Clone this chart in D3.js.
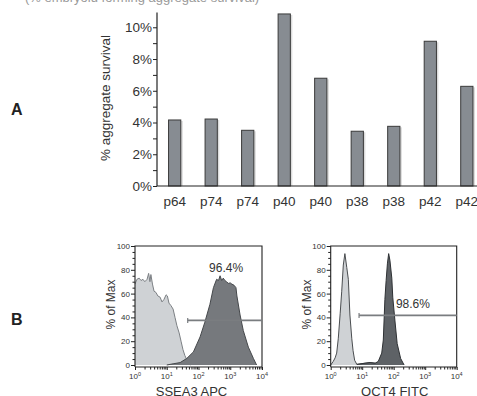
<!DOCTYPE html>
<html><head><meta charset="utf-8">
<script src="https://cdn.jsdelivr.net/npm/d3@7"></script>
<style>body{margin:0;background:#fff}svg{display:block;font-family:"Liberation Sans",Arial,sans-serif}</style>
</head><body>
<svg id="c" width="477" height="396"></svg>
<script>
// ---- Panel A data ----
const categories = ["p64","p74","p74","p40","p40","p38","p38","p42","p42"];
const survival = [4.16, 4.22, 3.51, 10.84, 6.79, 3.45, 3.76, 9.12, 6.28];
const yTicksA = [0, 2, 4, 6, 8, 10];
const yTickLabelsA = ["0%","2%","4%","6%","8%","10%"];

// ---- Panel B data (log10 intensity, % of Max) ----
const ssea3CtrlLog = [0.0,0.06,0.13,0.19,0.25,0.31,0.38,0.43,0.47,0.50,0.55,0.60,0.66,0.72,0.79,0.85,0.91,0.98,1.02,1.07,1.13,1.20,1.26,1.32,1.39,1.45,1.51,1.57,1.64,1.70,1.76];
const ssea3CtrlPct = [68,72,73,71,72,70,72,77,70,76,68,62,61,58,57,53,55,59,58,52,50,47,40,33,27,20,13,8,4,1,0];
const ssea3StainLog = [1.0,1.20,1.42,1.63,1.84,2.05,2.20,2.36,2.47,2.57,2.63,2.68,2.73,2.78,2.83,2.88,2.94,3.00,3.05,3.12,3.18,3.21,3.31,3.41,3.57,3.73,3.83];
const ssea3StainPct = [0,1,2,5.5,11,23.6,36,51,65,72,71,75,71,73,71,70,68.6,69,68,67,65,58,42,29,15,5.5,0];
const oct4CtrlLog = [0.0,0.08,0.14,0.19,0.24,0.30,0.35,0.40,0.45,0.51,0.56,0.61,0.67,0.71,0.76,0.83,1.09,1.25,1.41,1.51];
const oct4CtrlPct = [0,3,6,10,22,43,62,84,93.6,82,72,42,22,12,4,0.5,1.5,2,1.5,1];
const oct4StainLog = [0.83,1.09,1.25,1.41,1.51,1.62,1.67,1.72,1.76,1.80,1.84,1.88,1.94,1.97,2.04,2.11,2.22,2.33];
const oct4StainPct = [0.5,1.5,2,1.5,3,10,21,55,71,85,93.6,88,73,57,37,18,5.5,0];
const flowYTicks = [0,20,40,60,80,100];
const flowXTicksExp = [0,1,2,3,4];
const ssea3Gate = {pct: "96.4%", fromLog: 1.66, toLog: 4, level: 37.5, labelLog: 2.87, labelLevel: 78};
const oct4Gate = {pct: "98.6%", fromLog: 0.90, toLog: 4, level: 41.7, labelLog: 2.61, labelLevel: 48};

const svg = d3.select("#c");

// clipped caption at top
svg.append("text").attr("x",25).attr("y",1.5).attr("font-size",13).attr("fill","#9a9a9a")
  .text("(% embryoid forming aggregate survival)");

// ---- Panel A ----
const xA = d3.scaleBand().domain(d3.range(categories.length)).range([156.5, 485]).paddingInner(0.665).paddingOuter(0.33);
const yA = d3.scaleLinear().domain([0, 10.9]).range([186, 13]);
const gA = svg.append("g");
gA.selectAll("rect.sh").data(survival).join("rect").attr("class","sh")
  .attr("x",(d,i)=>xA(i)+2).attr("y",d=>yA(d)+1).attr("width",xA.bandwidth())
  .attr("height",d=>yA(0)-yA(d)-1).attr("fill","#dcdcdc");
gA.selectAll("rect.bar").data(survival).join("rect").attr("class","bar")
  .attr("x",(d,i)=>xA(i)).attr("y",d=>yA(d)).attr("width",xA.bandwidth())
  .attr("height",d=>yA(0)-yA(d)).attr("fill","#878c92").attr("stroke","#3a3a3a").attr("stroke-width",1);
const yAxA = d3.axisLeft(yA).tickValues(d3.range(0,11,1)).tickSize(4)
  .tickFormat(d => yTicksA.includes(d) ? yTickLabelsA[yTicksA.indexOf(d)] : "");
const gy = gA.append("g").attr("transform","translate(157,0)").call(yAxA);
gy.select(".domain").attr("stroke","#222").attr("stroke-width",1.2).attr("d","M0,186V12.5");
gy.selectAll(".tick line").attr("stroke","#222");
gy.selectAll(".tick text").attr("font-size",13.5).attr("fill","#333").attr("x",-5).attr("font-family","Liberation Sans, Arial, sans-serif");
const gx = gA.append("g").attr("transform","translate(0,186)")
  .call(d3.axisBottom(xA).tickSize(0).tickFormat(i=>categories[i]));
gx.select(".domain").attr("stroke","#222").attr("stroke-width",1.2).attr("d","M157,0H477");
gx.selectAll(".tick text").attr("font-size",13.5).attr("fill","#333").attr("dy","1.25em").attr("font-family","Liberation Sans, Arial, sans-serif");
gA.append("text").attr("transform","translate(110,98) rotate(-90)").attr("text-anchor","middle")
  .attr("font-size",13.5).attr("fill","#333").text("% aggregate survival");

svg.append("text").attr("x",11).attr("y",115).attr("font-size",16).attr("font-weight","bold").attr("fill","#222").text("A");
svg.append("text").attr("x",11).attr("y",325).attr("font-size",16).attr("font-weight","bold").attr("fill","#222").text("B");

// ---- Panel B ----
function flow(left, right, ctrlLog, ctrlPct, stainLog, stainPct, gate, title, stainFill, stainStroke, ctrlStroke, titleShift) {
  const g = svg.append("g");
  const x = d3.scaleLog().domain([1, 1e4]).range([left, right]);
  const y = d3.scaleLinear().domain([0, 100]).range([365, 246]);
  const area = d3.area().x(d=>x(Math.pow(10,d[0]))).y0(y(0)).y1(d=>y(d[1]));
  const line = d3.line().x(d=>x(Math.pow(10,d[0]))).y(d=>y(d[1]));
  const ctrl = ctrlLog.map((v,i)=>[v, ctrlPct[i]]);
  const stain = stainLog.map((v,i)=>[v, stainPct[i]]);
  g.append("path").datum(ctrl).attr("d",area).attr("fill","#cfd2d5");
  g.append("path").datum(ctrl).attr("d",line).attr("fill","none").attr("stroke",ctrlStroke).attr("stroke-width",1);
  g.append("path").datum(stain).attr("d",area).attr("fill",stainFill);
  g.append("path").datum(stain).attr("d",line).attr("fill","none").attr("stroke",stainStroke).attr("stroke-width",1);
  g.append("path").attr("d",`M${left},367V246H${right}V367H${left}`).attr("fill","none").attr("stroke","#222").attr("stroke-width",1.1);
  const ya = g.append("g").attr("transform",`translate(${left},0)`)
    .call(d3.axisLeft(y).tickValues(flowYTicks).tickSize(4).tickFormat(d3.format("d")));
  ya.select(".domain").remove();
  ya.selectAll(".tick line").attr("stroke","#222");
  ya.selectAll(".tick text").attr("font-size",8).attr("fill","#333").attr("x",-5);
  g.append("g").attr("transform",`translate(${left},0)`)
    .call(d3.axisLeft(y).tickValues(d3.range(0,101,5).filter(v=>v%20)).tickSize(2.5).tickFormat(""))
    .call(s=>{s.select(".domain").remove(); s.selectAll("line").attr("stroke","#222");});
  const xa = g.append("g").attr("transform","translate(0,367)")
    .call(d3.axisBottom(x).tickValues(flowXTicksExp.map(e=>Math.pow(10,e))).tickSize(3).tickFormat(""));
  xa.select(".domain").remove();
  xa.selectAll(".tick line").attr("stroke","#222");
  const minor = [];
  for (let e=0;e<4;e++) for (let k=2;k<10;k++) minor.push(k*Math.pow(10,e));
  g.append("g").attr("transform","translate(0,367)")
    .call(d3.axisBottom(x).tickValues(minor).tickSize(2.5).tickFormat(""))
    .call(s=>{s.select(".domain").remove(); s.selectAll("line").attr("stroke","#222");});
  const lbl = g.selectAll("text.xl").data(flowXTicksExp).join("text").attr("class","xl")
    .attr("x",e=>x(Math.pow(10,e))).attr("y",379).attr("text-anchor","middle").attr("font-size",8).attr("fill","#333");
  lbl.append("tspan").text("10");
  lbl.append("tspan").attr("dy",-3.5).attr("font-size",5.5).text(e=>e);
  const gx1 = x(Math.pow(10,gate.fromLog)), gx2 = x(Math.pow(10,gate.toLog)), gy1 = y(gate.level);
  g.append("line").attr("x1",gx1).attr("x2",gx2).attr("y1",gy1).attr("y2",gy1).attr("stroke","#7a7d80").attr("stroke-width",1.8);
  g.append("line").attr("x1",gx1).attr("x2",gx1).attr("y1",gy1-2.5).attr("y2",gy1+2.5).attr("stroke","#7a7d80").attr("stroke-width",1.2);
  g.append("text").attr("x",x(Math.pow(10,gate.labelLog))).attr("y",y(gate.labelLevel)).attr("text-anchor","middle")
    .attr("font-size",12).attr("fill","#333").text(gate.pct);
  g.append("text").attr("transform",`translate(${left-20},${(246+367)/2 - 2}) rotate(-90)`).attr("text-anchor","middle")
    .attr("font-size",12).attr("fill","#333").text("% of Max");
  g.append("text").attr("x",(left+right)/2 + titleShift).attr("y",395.5).attr("text-anchor","middle").attr("font-size",13).attr("fill","#333").text(title);
}
flow(135, 262, ssea3CtrlLog, ssea3CtrlPct, ssea3StainLog, ssea3StainPct, ssea3Gate, "SSEA3 APC", "#76797d", "#45484b", "#7c8084", -7);
flow(330.7, 456.7, oct4CtrlLog, oct4CtrlPct, oct4StainLog, oct4StainPct, oct4Gate, "OCT4 FITC", "#5e6266", "#2e3134", "#4a4d50", 1);
</script>
</body></html>
